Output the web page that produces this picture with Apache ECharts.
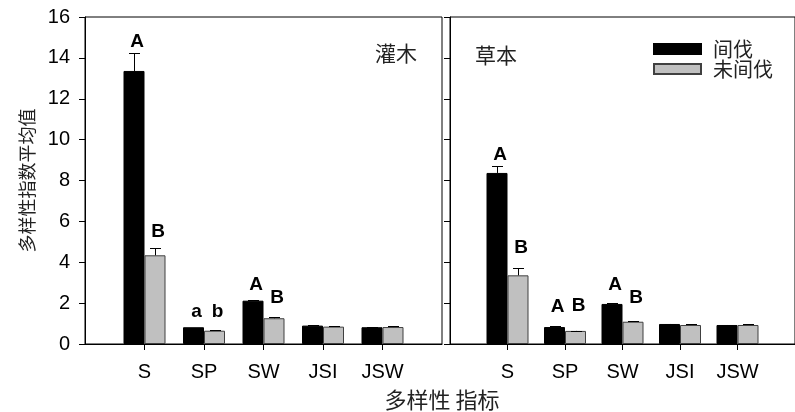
<!DOCTYPE html>
<html>
<head>
<meta charset="utf-8">
<script src="https://cdn.jsdelivr.net/npm/echarts@6/dist/echarts.min.js"></script>
<style>
html,body{margin:0;padding:0;background:#fff;}
#chart{width:795px;height:412px;}
</style>
</head>
<body>
<div id="chart"></div>
<script>
// ---- data ----
const categories = ['S', 'SP', 'SW', 'JSI', 'JSW'];
const yTicks = [0, 2, 4, 6, 8, 10, 12, 14, 16];
const seriesNames = ['间伐', '未间伐'];

// 灌木 (shrub)
const shrubThinned = [13.36, 0.82, 2.12, 0.90, 0.82];
const shrubThinnedErr = [0.86, 0.00, 0.02, 0.01, 0.01];
const shrubUnthinned = [4.34, 0.65, 1.26, 0.85, 0.83];
const shrubUnthinnedErr = [0.34, 0.05, 0.08, 0.04, 0.04];
// letters: [category, seriesIndex, text, value-height of letter centre]
const shrubLetters = [['S', 0, 'A', 14.79], ['S', 1, 'B', 5.48], ['SP', 0, 'a', 1.57], ['SP', 1, 'b', 1.57], ['SW', 0, 'A', 2.89], ['SW', 1, 'B', 2.25]];

// 草本 (herb)
const herbThinned = [8.37, 0.83, 1.96, 0.98, 0.93];
const herbThinnedErr = [0.34, 0.03, 0.03, 0.02, 0.01];
const herbUnthinned = [3.36, 0.64, 1.09, 0.93, 0.93];
const herbUnthinnedErr = [0.34, 0.01, 0.05, 0.05, 0.05];
const herbLetters = [['S', 0, 'A', 9.25], ['S', 1, 'B', 4.70], ['SP', 0, 'A', 1.81], ['SP', 1, 'B', 1.86], ['SW', 0, 'A', 2.89], ['SW', 1, 'B', 2.25]];

const panelLabels = ['灌木', '草本'];
const yTitle = '多样性指数平均值';
const xTitle = '多样性 指标';

// ---- build ----
const axisCats = [' '].concat(categories).concat(['  ']);
const pad = arr => ['-'].concat(arr).concat(['-']);
const BAR_W = 21;
const LATIN = '"Liberation Sans", Arial, sans-serif';
const CJK = '"Noto Sans CJK SC", sans-serif';

function errData(vals, errs) {
  return vals.map((v, i) => [i + 1, v, errs[i]]);
}
function errSeries(gi, side, vals, errs) {
  return {
    type: 'custom', xAxisIndex: gi, yAxisIndex: gi, silent: true, z: 5,
    data: errData(vals, errs),
    renderItem: function (params, api) {
      const idx = api.value(0), v = api.value(1), e = api.value(2);
      if (!(e > 0)) return null;
      const p0 = api.coord([idx, v]);
      const p1 = api.coord([idx, v + e]);
      const x = Math.round(p0[0] + side * BAR_W / 2) + 0.5;
      const yTop = Math.round(p1[1]) + 0.5;
      return {
        type: 'group', children: [
          { type: 'line', shape: { x1: x, y1: p0[1], x2: x, y2: yTop }, style: { stroke: '#000', lineWidth: 1 } },
          { type: 'line', shape: { x1: x - 5.5, y1: yTop, x2: x + 5.5, y2: yTop }, style: { stroke: '#000', lineWidth: 1 } }
        ]
      };
    }
  };
}
function letterSeries(gi, letters) {
  return {
    type: 'custom', xAxisIndex: gi, yAxisIndex: gi, silent: true, z: 6,
    data: letters.map(l => [categories.indexOf(l[0]) + 1, l[3], l[1] === 0 ? -1 : 1, l[2]]),
    renderItem: function (params, api) {
      const p = api.coord([api.value(0), api.value(1)]);
      const side = api.value(2);
      const txt = letters[params.dataIndex][2];
      return {
        type: 'text',
        style: {
          text: txt, x: p[0] + side * BAR_W / 2 + 3, y: p[1],
          align: 'center', verticalAlign: 'middle',
          font: 'bold 19px ' + LATIN, fill: '#000'
        }
      };
    }
  };
}
function barSeries(gi, name, vals, color, border) {
  return {
    type: 'bar', name: name, xAxisIndex: gi, yAxisIndex: gi,
    data: pad(vals), barWidth: BAR_W, barGap: '0%',
    itemStyle: { color: color, borderColor: border, borderWidth: 1 },
    z: 3
  };
}
function xAxisDef(gi) {
  return {
    type: 'category', gridIndex: gi, data: axisCats, boundaryGap: false,
    axisLine: { show: true, lineStyle: { color: '#000', width: 1 } },
    axisTick: { show: true, length: 6, interval: (i) => i > 0 && i < axisCats.length - 1, lineStyle: { color: '#000' } },
    axisLabel: { interval: (i) => i > 0 && i < axisCats.length - 1, fontSize: 20, color: '#000', fontFamily: LATIN, margin: 18 },
    splitLine: { show: false }
  };
}
function yAxisDef(gi) {
  const base = {
    type: 'value', gridIndex: gi, min: yTicks[0], max: yTicks[yTicks.length - 1], interval: yTicks[1] - yTicks[0],
    axisLine: { show: true, lineStyle: { color: '#000', width: 1 } },
    axisTick: { show: true, length: 6, lineStyle: { color: '#000' } },
    axisLabel: { show: gi === 0, fontSize: 20, color: '#000', fontFamily: LATIN, margin: 15 },
    splitLine: { show: false }
  };
  if (gi === 0) {
    base.name = yTitle;
    base.nameLocation = 'middle';
    base.nameGap = 49;
    base.nameTextStyle = { fontSize: 18, color: '#222', fontFamily: CJK };
  }
  return base;
}

const chart = echarts.init(document.getElementById('chart'), null, { renderer: 'canvas' });
chart.setOption({
  backgroundColor: '#fff',
  animation: false,
  grid: [
    { left: 85, top: 17, width: 357, height: 327, show: true, borderColor: '#000', borderWidth: 1, containLabel: false },
    { left: 450, top: 17, width: 356, height: 327, show: true, borderColor: '#000', borderWidth: 1, containLabel: false }
  ],
  xAxis: [xAxisDef(0), xAxisDef(1)],
  yAxis: [yAxisDef(0), yAxisDef(1)],
  legend: {
    data: seriesNames, orient: 'vertical', left: 653, top: 39, padding: 0,
    icon: 'rect', itemWidth: 47, itemHeight: 10, itemGap: 0,
    textStyle: { fontSize: 20, color: '#222', fontFamily: CJK, padding: [0, 0, 0, 7] }
  },
  graphic: [
    { type: 'text', left: 375, top: 43, style: { text: panelLabels[0], font: '21px ' + CJK, fill: '#222' } },
    { type: 'text', left: 475, top: 45, style: { text: panelLabels[1], font: '21px ' + CJK, fill: '#222' } },
    { type: 'text', x: 442, y: 400, style: { text: xTitle, font: '22px ' + CJK, fill: '#222', align: 'center', verticalAlign: 'middle' } }
  ],
  series: [
    barSeries(0, seriesNames[0], shrubThinned, '#000', '#000'),
    barSeries(0, seriesNames[1], shrubUnthinned, '#c0c0c0', '#404040'),
    barSeries(1, seriesNames[0], herbThinned, '#000', '#000'),
    barSeries(1, seriesNames[1], herbUnthinned, '#c0c0c0', '#404040'),
    errSeries(0, -1, shrubThinned, shrubThinnedErr),
    errSeries(0, 1, shrubUnthinned, shrubUnthinnedErr),
    errSeries(1, -1, herbThinned, herbThinnedErr),
    errSeries(1, 1, herbUnthinned, herbUnthinnedErr),
    letterSeries(0, shrubLetters),
    letterSeries(1, herbLetters)
  ]
});
</script>
</body>
</html>
